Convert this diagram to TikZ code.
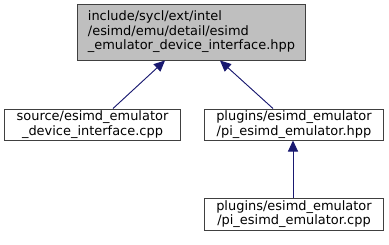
\documentclass[tikz,border=0pt]{standalone}
\usepackage{fontspec}
\setmainfont{DejaVu Sans}
\usetikzlibrary{arrows.meta}
\definecolor{edgeblue}{HTML}{191970}
\definecolor{boxline}{HTML}{404040}
\definecolor{boxfill}{HTML}{BFBFBF}

\tikzset{
  filebox/.style={draw=boxline,line width=1bp,fill=white,align=center,
    inner sep=0pt,font=\fontsize{13}{14.5}\selectfont},
  edge/.style={-{Triangle[length=11bp,width=10bp]},draw=edgeblue,fill=edgeblue,
    line width=.9bp}
}

\begin{document}
\begin{tikzpicture}[x=1bp,y=-1bp]
  \useasboundingbox (0,0) rectangle (389,245);

  % the header and the files that include it
  \node[filebox,fill=boxfill,align=left,minimum width=227bp,minimum height=56bp]
    (iface) at (191.5,32)
    {include/sycl/ext/intel\\/esimd/emu/detail/esimd\\\_emulator\_device\_interface.hpp};
  \node[filebox,minimum width=175bp,minimum height=31bp] (devsrc) at (92.5,124.5)
    {source/esimd\_emulator\\\_device\_interface.cpp};
  \node[filebox,minimum width=178bp,minimum height=31bp] (pihpp) at (294,124.5)
    {plugins/esimd\_emulator\\/pi\_esimd\_emulator.hpp};
  \node[filebox,minimum width=178bp,minimum height=32bp] (picpp) at (294,214)
    {plugins/esimd\_emulator\\/pi\_esimd\_emulator.cpp};

  \draw[edge] ([xshift=20.5bp]devsrc.north) -- ([xshift=-26.5bp]iface.south);
  \draw[edge] ([xshift=-21bp]pihpp.north) -- ([xshift=28.5bp]iface.south);
  \draw[edge] ([xshift=-1bp]picpp.north) -- ([xshift=-1bp]pihpp.south);
\end{tikzpicture}
\end{document}
